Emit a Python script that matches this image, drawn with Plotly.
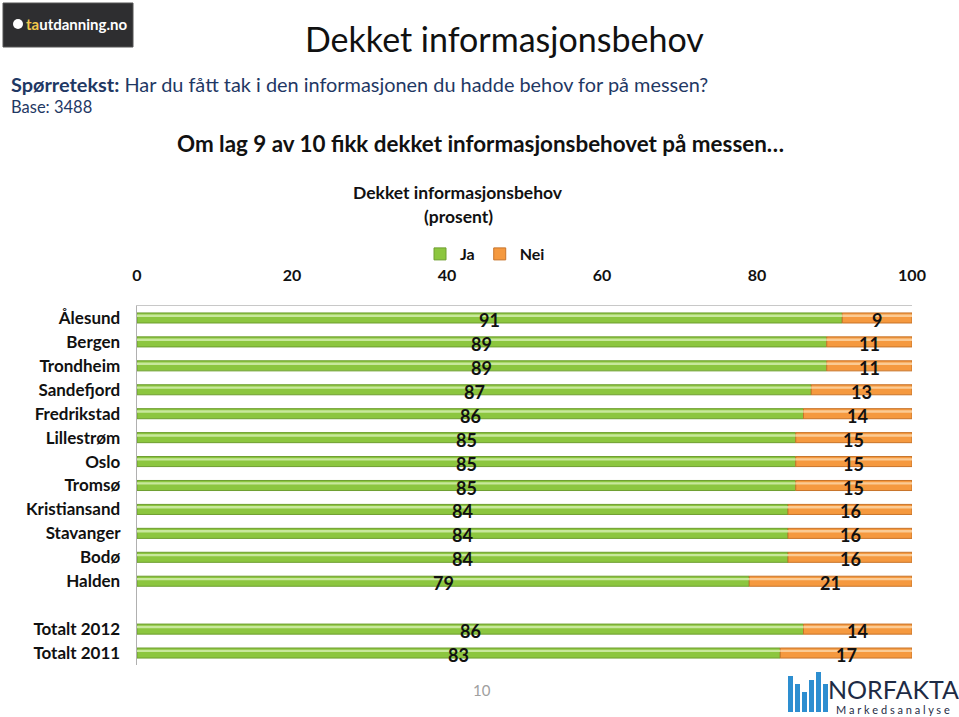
import plotly.graph_objects as go

categories = ["Ålesund", "Bergen", "Trondheim", "Sandefjord", "Fredrikstad", "Lillestrøm",
              "Oslo", "Tromsø", "Kristiansand", "Stavanger", "Bodø", "Halden", " ",
              "Totalt 2012", "Totalt 2011"]
ja = [91, 89, 89, 87, 86, 85, 85, 85, 84, 84, 84, 79, None, 86, 83]
nei = [9, 11, 11, 13, 14, 15, 15, 15, 16, 16, 16, 21, None, 14, 17]
x_ticks = [0, 20, 40, 60, 80, 100]

W, H = 959, 717
L, R, T, B = 137, 912, 306, 665
FONT = "Lato"

def px(x):
    return (x - L) / (R - L)

def py(y):
    return 1 - (y - T) / (B - T)

GREEN = "#8CC63F"
GREEN_HI = "#C8E89C"
GREEN_LINE = "#6E9E30"
ORANGE = "#F5993F"
ORANGE_HI = "#FBCB94"
ORANGE_LINE = "#C8742A"

fig = go.Figure()
base_nei = list(ja)

fig.add_trace(go.Bar(y=categories, x=ja, orientation="h", name="Ja", width=0.42,
                     marker=dict(color=GREEN, line=dict(color=GREEN_LINE, width=1))))
fig.add_trace(go.Bar(y=categories, x=nei, base=base_nei, orientation="h", name="Nei", width=0.42,
                     marker=dict(color=ORANGE, line=dict(color=ORANGE_LINE, width=1))))
# highlight stripes
fig.add_trace(go.Bar(y=categories, x=ja, orientation="h", width=0.1, offset=-0.14,
                     marker=dict(color=GREEN_HI, line=dict(width=0)), showlegend=False, hoverinfo="skip"))
fig.add_trace(go.Bar(y=categories, x=nei, base=base_nei, orientation="h", width=0.1, offset=-0.14,
                     marker=dict(color=ORANGE_HI, line=dict(width=0)), showlegend=False, hoverinfo="skip"))

annotations = []
lab_font = dict(family=FONT, size=18, color="#111111", weight="bold")
# value labels placed through the data axes
for cat, a, b in zip(categories, ja, nei):
    if a is None:
        continue
    annotations.append(dict(text=str(a), x=a / 2, y=cat, xref="x", yref="y", showarrow=False,
                            font=lab_font, yshift=-2))
    annotations.append(dict(text=str(b), x=a + b / 2, y=cat, xref="x", yref="y", showarrow=False,
                            font=lab_font, yshift=-2))

page_texts = [
    dict(text="Dekket informasjonsbehov", x=px(504), y=py(38), font=dict(size=34, color="#111111")),
    dict(text="<b>Spørretekst:</b> Har du fått tak i den informasjonen du hadde behov for på messen?",
         x=px(9), y=py(84), xanchor="left", font=dict(size=19.9, color="#1F3864")),
    dict(text="Base: 3488", x=px(9), y=py(107), xanchor="left", font=dict(size=16.5, color="#1F3864")),
    dict(text="<b>Om lag 9 av 10 fikk dekket informasjonsbehovet på messen…</b>", x=px(480), y=py(143),
         font=dict(size=22.4, color="#111111")),
    dict(text="<b>Dekket informasjonsbehov</b>", x=px(458), y=py(193), font=dict(size=17.5, color="#111111")),
    dict(text="<b>(prosent)</b>", x=px(458), y=py(216), font=dict(size=17.5, color="#111111")),
    dict(text="10", x=px(482), y=py(690), font=dict(size=15, color="#A0A0A0")),
    # tautdanning logo text
    dict(text="<b><span style='color:#F2C94C'>ta</span>utdanning.no</b>", x=px(77), y=py(24),
         font=dict(size=15, color="#FFFFFF")),
    dict(text="NORFAKTA", x=px(893), y=py(689), font=dict(size=25, color="#1E2B45")),
    dict(text="M a r k e d s a n a l y s e", x=px(893), y=py(709), font=dict(size=11, color="#1E2B45")),
]
for a in page_texts:
    a.setdefault("xref", "paper")
    a.setdefault("yref", "paper")
    a.setdefault("showarrow", False)
    a.setdefault("yanchor", "middle")
    a.setdefault("xanchor", "center")
annotations += page_texts

shapes = [
    dict(type="rect", xref="paper", yref="paper", x0=px(3), x1=px(133), y0=py(47), y1=py(3),
         fillcolor="#2E2E30", line=dict(color="#555555", width=1), layer="above"),
    dict(type="circle", xref="paper", yref="paper", x0=px(13), x1=px(23), y0=py(29), y1=py(19),
         fillcolor="#FFFFFF", line=dict(width=0)),
]
# NORFAKTA bars
bar_specs = [(788, 676), (795, 684), (802, 692), (809, 680), (816, 672), (823, 684)]
for xb, ytop in bar_specs:
    shapes.append(dict(type="rect", xref="paper", yref="paper", x0=px(xb), x1=px(xb + 5),
                       y0=py(712), y1=py(ytop), fillcolor="#2D8ED0", line=dict(width=0)))

fig.update_layout(
    width=W, height=H,
    margin=dict(l=L, r=W - R, t=T, b=H - B),
    paper_bgcolor="white", plot_bgcolor="white",
    barmode="overlay",
    font=dict(family=FONT, size=16, color="#111111"),
    showlegend=True,
    legend=dict(orientation="h", x=px(485), y=py(254), xanchor="center", yanchor="middle",
                font=dict(size=16, weight="bold"), itemwidth=30, traceorder="normal",
                bgcolor="rgba(0,0,0,0)"),
    annotations=annotations,
    shapes=shapes,
    xaxis=dict(side="top", range=[0, 100], tickvals=x_ticks, showgrid=False, zeroline=False,
               showline=True, linecolor="#C8C8C8", linewidth=1, ticks="", ticklabelstandoff=18,
               tickfont=dict(size=16, weight="bold")),
    yaxis=dict(range=[len(categories) - 0.5, -0.5], showgrid=False, zeroline=False, showline=True,
               linecolor="#B0B0B0", linewidth=1, ticks="", ticksuffix="   ",
               tickfont=dict(size=17, weight="bold")),
)

fig.write_html("out.html", config={"displayModeBar": False},
               post_script="document.body.style.margin='0px';document.body.style.padding='0px';")
